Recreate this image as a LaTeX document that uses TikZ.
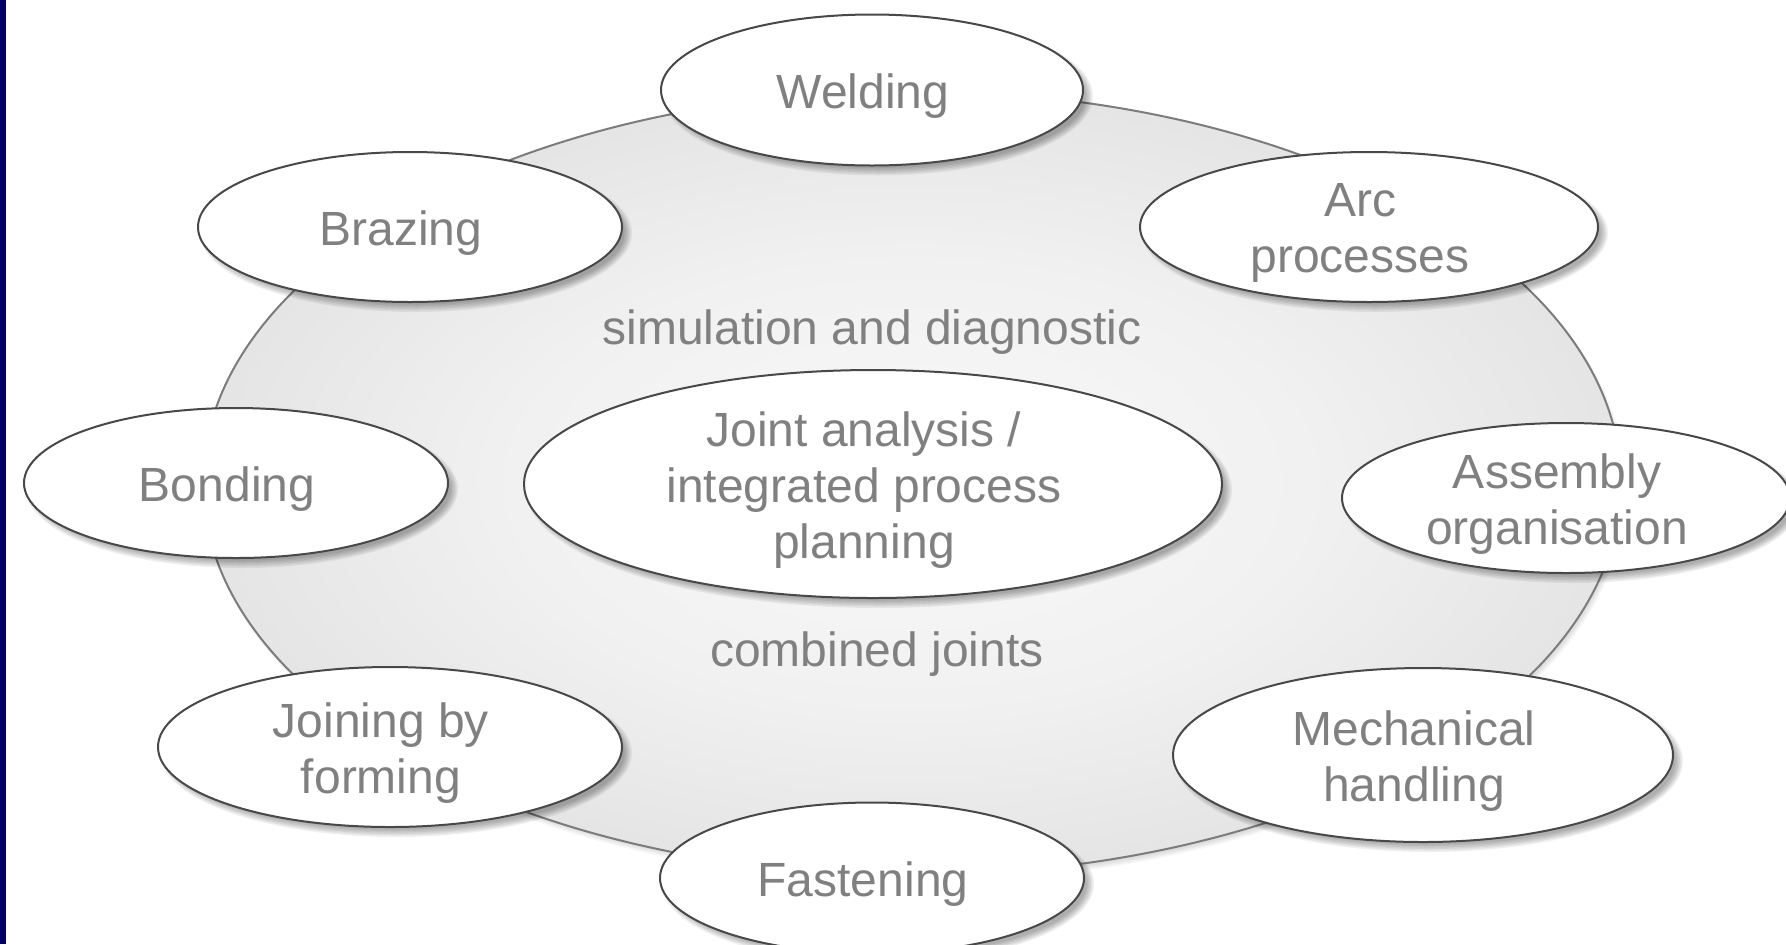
\documentclass[tikz,border=0pt]{standalone}
\usepackage{fontspec}
\setmainfont{Liberation Sans}
\usetikzlibrary{shapes.geometric}
\definecolor{navy}{HTML}{000066}
\definecolor{txt}{HTML}{808080}
\definecolor{edgeA}{HTML}{484848}
\definecolor{rim}{HTML}{7C7C7C}
\definecolor{gz}{gray}{0.975}
\definecolor{ga}{gray}{0.945}
\definecolor{gb}{gray}{0.875}
\definecolor{gc}{gray}{0.815}
\definecolor{gd}{gray}{0.765}
\pgfdeclareradialshading{glow}{\pgfpoint{0bp}{0bp}}{color(0bp)=(gz); color(14bp)=(ga); color(30bp)=(gb); color(42bp)=(gc); color(50bp)=(gd); color(70bp)=(gd)}
\newcommand{\softshadow}[4]{%
  \foreach \k in {0,...,5}{%
    \fill[black, opacity=0.06] (#1+6,#2+6) ellipse [x radius={#3+4-1.5*\k}, y radius={#4+4-1.5*\k}];
  }}
\tikzset{
  bub/.style={ellipse, draw=edgeA, line width=1pt, fill=white, inner sep=0pt},
  lab/.style={text=txt, font=\fontsize{24}{28.2}\selectfont, align=center, inner sep=0pt}
}
\begin{document}
\begin{tikzpicture}[x=0.5pt,y=-0.5pt]
\useasboundingbox (0,0) rectangle (1786,944);
\fill[white] (0,0) rectangle (1786,944);
% base ellipse
\foreach \k in {0,...,3}{%
  \fill[black, opacity=0.03] (915,488) ellipse [x radius={711-1.5*\k}, y radius={394-1.5*\k}];
}
\path[shading=glow, draw=rim, line width=1pt] (912,483) ellipse [x radius=709, y radius=392];
% labels on the base
\node[lab] (sim) at (872,332) {simulation and diagnostic};
\node[lab] (comb) at (877,654) {combined joints};
% shadows
\softshadow{872}{90}{211}{75.5}
\softshadow{410}{227}{212}{75}
\softshadow{1369}{227}{229}{75}
\softshadow{236}{483}{212}{75}
\softshadow{873}{484}{349}{114}
\softshadow{1566}{498}{224}{75}
\softshadow{390}{747}{232}{80}
\softshadow{1423}{755}{250}{87}
\softshadow{872}{878}{212}{75.5}
% bubbles
\node[bub, minimum width=211pt, minimum height=75.5pt] (weld) at (872,90) {};
\node[bub, minimum width=212pt, minimum height=75pt] (braz) at (410,227) {};
\node[bub, minimum width=229pt, minimum height=75pt] (arc) at (1369,227) {};
\node[bub, minimum width=212pt, minimum height=75pt] (bond) at (236,483) {};
\node[bub, minimum width=349pt, minimum height=114pt] (core) at (873,484) {};
\node[bub, minimum width=224pt, minimum height=75pt] (asm) at (1566,498) {};
\node[bub, minimum width=232pt, minimum height=80pt] (form) at (390,747) {};
\node[bub, minimum width=250pt, minimum height=87pt] (mech) at (1423,755) {};
\node[bub, minimum width=212pt, minimum height=75.5pt] (fast) at (872,878) {};
% bubble texts
\node[lab] (weldt) at ([shift={(-9,6)}]weld.center) {Welding};
\node[lab] (brazt) at ([shift={(-9,6)}]braz.center) {Brazing};
\node[lab] (arct) at ([shift={(-9,6)}]arc.center) {Arc\\processes};
\node[lab] (bondt) at ([shift={(-9,6)}]bond.center) {Bonding};
\node[lab] (coret) at ([shift={(-9,6)}]core.center) {Joint analysis /\\integrated process\\planning};
\node[lab] (asmt) at ([shift={(-9,6)}]asm.center) {Assembly\\organisation};
\node[lab] (formt) at ([shift={(-9,6)}]form.center) {Joining by\\forming};
\node[lab] (mecht) at ([shift={(-9,6)}]mech.center) {Mechanical\\handling};
\node[lab] (fastt) at ([shift={(-9,6)}]fast.center) {Fastening};
% left bar
\fill[navy] (0,0) rectangle (6,944);
\end{tikzpicture}
\end{document}
